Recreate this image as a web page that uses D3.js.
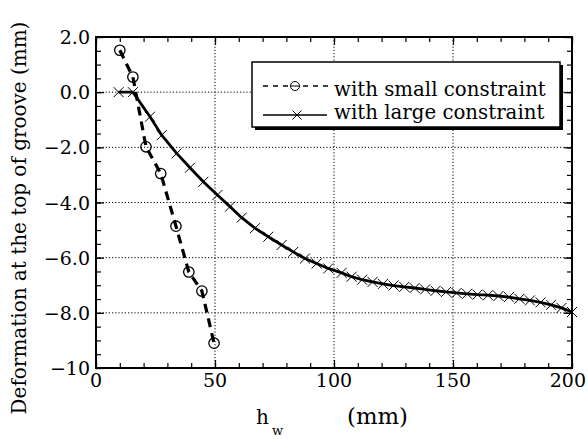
<!DOCTYPE html>
<html><head><meta charset="utf-8">
<script src="https://cdn.jsdelivr.net/npm/d3@7/dist/d3.min.js"></script>
<style>
body{margin:0;background:#fff}
svg{display:block}
text{font-family:"DejaVu Serif",serif;fill:#000}
</style>
</head><body>
<svg id="c" width="588" height="439"></svg>
<script>
// ---- data ----
const smallX = [10, 15.5, 21, 27.2, 33.6, 39, 44.5, 49.6];
const smallY = [1.52, 0.55, -1.98, -2.95, -4.86, -6.52, -7.21, -9.1];

const largeX = [9.5, 15.5, 22.7, 27.6, 33.9, 39.5, 45.1, 51, 56.3, 61.2, 66.8, 72.4, 78, 82.9, 87.8, 92.7, 97.6, 103.2,
  107.4, 111.8, 116.2, 120.6, 125, 129.5, 133.9, 138.3, 142.7, 147.1, 151.5, 155.9, 160.3, 164.7, 169.1, 173.5,
  177.9, 182.3, 186.8, 191.2, 195.6, 200];
const largeY = [0, 0, -0.89, -1.56, -2.22, -2.74, -3.25, -3.73, -4.15, -4.55, -4.93, -5.24, -5.54, -5.79, -6.03, -6.21, -6.39, -6.55,
  -6.69, -6.80, -6.88, -6.95, -7.01, -7.06, -7.10, -7.15, -7.20, -7.24, -7.28, -7.31, -7.34, -7.36, -7.39, -7.43,
  -7.49, -7.55, -7.62, -7.71, -7.82, -7.97];

const seriesNames = ["with small constraint", "with large constraint"];
const xTicks = [0, 50, 100, 150, 200];
const xTickLabels = ["0", "50", "100", "150", "200"];
const yTicks = [2, 0, -2, -4, -6, -8, -10];
const yTickLabels = ["2.0", "0.0", "\u22122.0", "\u22124.0", "\u22126.0", "\u22128.0", "\u221210"];
const xGrid = [50, 100, 150];
const yGrid = [0, -2, -4, -6, -8];
const yTitle = "Deformation at the top of groove (mm)";

// ---- layout ----
const L = 96, R = 572, T = 37, B = 368;
const svg = d3.select("#c");
svg.append("rect").attr("width", 588).attr("height", 439).attr("fill", "#fff");

const x = d3.scaleLinear().domain([0, 200]).range([L, R]);
const y = d3.scaleLinear().domain([-10, 2]).range([B, T]);

// grid
const g = svg.append("g");
g.selectAll(".gx").data(xGrid).join("line")
  .attr("x1", d => x(d)).attr("x2", d => x(d)).attr("y1", T).attr("y2", B)
  .attr("stroke", "#000").attr("stroke-width", 1).attr("stroke-dasharray", "1.2,2");
g.selectAll(".gy").data(yGrid).join("line")
  .attr("y1", d => y(d)).attr("y2", d => y(d)).attr("x1", L).attr("x2", R)
  .attr("stroke", "#000").attr("stroke-width", 1).attr("stroke-dasharray", "1.2,2");

// axes (inward ticks on all 4 sides)
function styleAxis(sel) {
  sel.select(".domain").remove();
  sel.selectAll(".tick line").attr("stroke", "#000").attr("stroke-width", 1.2);
  sel.selectAll("text").remove();
}
const minorX = d3.range(0, 201, 10), minorY = d3.range(-10, 2.01, 0.5);
svg.append("g").attr("transform", `translate(0,${B})`).call(d3.axisBottom(x).tickValues(minorX).tickSize(-5)).call(styleAxis);
svg.append("g").attr("transform", `translate(0,${B})`).call(d3.axisBottom(x).tickValues(xTicks).tickSize(-8)).call(styleAxis);
svg.append("g").attr("transform", `translate(0,${T})`).call(d3.axisTop(x).tickValues(minorX).tickSize(-5)).call(styleAxis);
svg.append("g").attr("transform", `translate(0,${T})`).call(d3.axisTop(x).tickValues(xTicks).tickSize(-8)).call(styleAxis);
svg.append("g").attr("transform", `translate(${L},0)`).call(d3.axisLeft(y).tickValues(minorY).tickSize(-5)).call(styleAxis);
svg.append("g").attr("transform", `translate(${L},0)`).call(d3.axisLeft(y).tickValues(yTicks).tickSize(-8)).call(styleAxis);
svg.append("g").attr("transform", `translate(${R},0)`).call(d3.axisRight(y).tickValues(minorY).tickSize(-5)).call(styleAxis);
svg.append("g").attr("transform", `translate(${R},0)`).call(d3.axisRight(y).tickValues(yTicks).tickSize(-8)).call(styleAxis);

svg.append("rect").attr("x", L).attr("y", T).attr("width", R - L).attr("height", B - T)
  .attr("fill", "none").attr("stroke", "#000").attr("stroke-width", 2);

// tick labels
svg.selectAll(".xl").data(xTicks).join("text")
  .attr("x", (d, i) => i === xTicks.length - 1 ? 586 : x(d)).attr("y", 387)
  .attr("text-anchor", (d, i) => i === xTicks.length - 1 ? "end" : "middle")
  .attr("font-size", 19).text((d, i) => xTickLabels[i]);
svg.selectAll(".yl").data(yTicks).join("text")
  .attr("x", 90).attr("y", d => y(d) + 7).attr("text-anchor", "end")
  .attr("font-size", 19).text((d, i) => yTickLabels[i]);

// axis titles
const yt = svg.append("text").attr("transform", `translate(26,218) rotate(-90)`)
  .attr("text-anchor", "middle").attr("font-size", 19).text(yTitle);
function fit(t, w) { const cw = t.node().getComputedTextLength(); const fs = +t.attr("font-size"); t.attr("font-size", fs * w / cw); }
fit(yt, 393);
svg.append("text").attr("x", 256).attr("y", 424).attr("font-size", 20).text("h");
svg.append("text").attr("x", 272).attr("y", 435).attr("font-size", 13).text("w");
const mm = svg.append("text").attr("x", 347).attr("y", 424).attr("font-size", 20).text("(mm)");
fit(mm, 61);

// series
const line = d3.line().x(d => x(d[0])).y(d => y(d[1]));
const large = largeX.map((v, i) => [v, largeY[i]]);
const small = smallX.map((v, i) => [v, smallY[i]]);

svg.append("path").datum(large).attr("d", line).attr("fill", "none")
  .attr("stroke", "#000").attr("stroke-width", 2.8).attr("stroke-linejoin", "round");
const xs = 5;
svg.append("g").selectAll("path").data(large).join("path")
  .attr("d", d => { const cx = x(d[0]), cy = y(d[1]); return `M${cx - xs},${cy - xs}L${cx + xs},${cy + xs}M${cx - xs},${cy + xs}L${cx + xs},${cy - xs}`; })
  .attr("stroke", "#000").attr("stroke-width", 1).attr("fill", "none");

svg.append("path").datum(small).attr("d", line).attr("fill", "none")
  .attr("stroke", "#000").attr("stroke-width", 3.2).attr("stroke-dasharray", "9,6");
svg.append("g").selectAll("circle").data(small).join("circle")
  .attr("cx", d => x(d[0])).attr("cy", d => y(d[1])).attr("r", 5.2)
  .attr("fill", "none").attr("stroke", "#000").attr("stroke-width", 1.3);

// legend
const lg = svg.append("g");
lg.append("rect").attr("x", 255).attr("y", 65).attr("width", 308).attr("height", 65).attr("fill", "#000");
lg.append("rect").attr("x", 252).attr("y", 62).attr("width", 308).attr("height", 65)
  .attr("fill", "#fff").attr("stroke", "#000").attr("stroke-width", 1.5);
lg.append("line").attr("x1", 263).attr("x2", 328).attr("y1", 86).attr("y2", 86)
  .attr("stroke", "#000").attr("stroke-width", 1.3).attr("stroke-dasharray", "5,5");
lg.append("circle").attr("cx", 295).attr("cy", 86).attr("r", 4.5).attr("fill", "#fff").attr("stroke", "#000").attr("stroke-width", 1);
lg.append("line").attr("x1", 290.5).attr("x2", 299.5).attr("y1", 86).attr("y2", 86).attr("stroke", "#000").attr("stroke-width", 1);
lg.append("line").attr("x1", 263).attr("x2", 327).attr("y1", 115).attr("y2", 115).attr("stroke", "#000").attr("stroke-width", 1.3);
lg.append("path").attr("d", `M${297 - 4.5},${115 - 4.5}L${297 + 4.5},${115 + 4.5}M${297 - 4.5},${115 + 4.5}L${297 + 4.5},${115 - 4.5}`)
  .attr("stroke", "#000").attr("stroke-width", 1);
const t1 = lg.append("text").attr("x", 334).attr("y", 96).attr("font-size", 20).text(seriesNames[0]);
const t2 = lg.append("text").attr("x", 334).attr("y", 119).attr("font-size", 20).text(seriesNames[1]);
fit(t1, 212); t2.attr("font-size", t1.attr("font-size"));
</script>
</body></html>
